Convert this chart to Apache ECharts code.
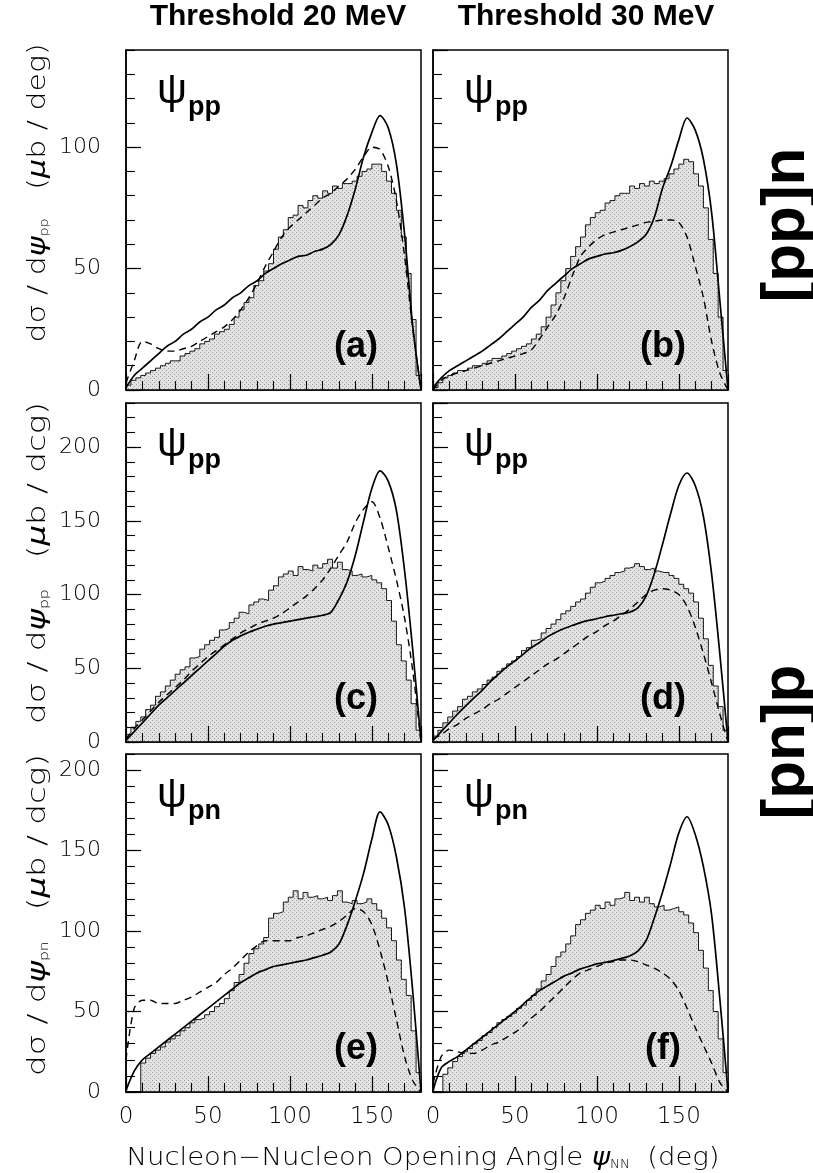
<!DOCTYPE html>
<html lang="en">
<head>
<meta charset="UTF-8">
<title>Nucleon-Nucleon opening angle</title>
<script src="https://cdn.jsdelivr.net/npm/echarts@6/dist/echarts.min.js"></script>
<style>
  html, body { margin: 0; padding: 0; background: #fff; }
  #main { width: 813px; height: 1173px; }
</style>
</head>
<body>
<div id="main"></div>
<script>
// angles of the two model curves (deg)
var anglesLine = [0,5,10,15,20,25,30,35,40,45,50,55,60,65,70,75,80,85,90,95,100,105,110,115,120,125,130,135,140,145,150,155,160,165,170,175,180];
// left edges of the 3 deg histogram bins
var binEdges = [0,3,6,9,12,15,18,21,24,27,30,33,36,39,42,45,48,51,54,57,60,63,66,69,72,75,78,81,84,87,90,93,96,99,102,105,108,111,114,117,120,123,126,129,132,135,138,141,144,147,150,153,156,159,162,165,168,171,174,177];
var xTicks = [0, 50, 100, 150];
var yMaxByRow = [140, 230, 210];

// (a) [pp]n, threshold 20 MeV
var histA  = [2,4,5,6,7,8,9,10,11,12, 12,14,15,16,17,19,20,21,23,24, 25,27,30,33,36,38,43,45,49,52, 58,63,66,71,72,76,75,78,80,79, 82,81,84,83,85,85,86,88,90,91, 93,93,90,86,81,74,63,48,29,6];
var solidA = [1,6,9,12,15,18,20,23,25,28, 30,33,35,38,40,43,45,48,50,52, 53.5,55,55.5,57,58,60,64,72,83,96, 106,113,108,93,64,26,0];
var dashA  = [3,12,20,19,17,16,16,17,18,20, 22,24,26,29,33,38,44,51,57,63, 67,70,73,76,79,81,84,87,91,96, 100,99,92,78,55,25,0];
// (b) [pp]n, threshold 30 MeV
var histB  = [1,3,5,6,7,8,8,9,10,10, 11,12,13,13,14,15,16,17,18,19, 21,23,26,30,35,40,45,50,55,59, 63,68,71,73,74,77,78,80,81,81, 84,83,85,84,86,85,86,87,89,91, 93,95,94,89,84,75,62,48,30,8];
var solidB = [1,5,8,10,12,14,16,18.5,21,24, 27,30,34,37,41,44,47,50,52,54, 55,56,56.5,57.5,59,61,64,71,83,92, 103,112,107,95,73,37,0];
var dashB  = [0,4,6,7,8,9,10,11,12,13, 14,15,16.5,21,26,31,38,47,55,59, 62,64,65,66,67,68,69,69.5,70,70, 69,63,51,38,20,7,0];
// (c) [pn]p psi_pp, 20 MeV
var histC  = [5,10,14,17,22,25,31,34,38,42, 46,49,51,57,58,63,66,69,71,76, 77,81,84,88,87,93,95,97,96,103, 106,112,114,116,113,119,117,116,120,118, 121,124,118,122,117,116,113,114,112,113, 110,108,104,96,82,66,55,42,26,8];
var solidC = [1,7,13,19,25,30,35,40,45,50, 55,60,65,69,72,74.5,76.5,78.5,80,81, 82,83,84,85,86,88,97,109,127,150, 172,184,177,157,116,62,0];
var dashC  = [2,9,15,21,27,32,37,42,48,53, 58,62,66,70,74,77,80,82,84,87, 91,95,99,104,110,118,127,136,149,158, 163,152,132,110,84,48,0];
// (d) [pn]p psi_pp, 30 MeV
var histD  = [4,8,13,17,21,24,29,31,34,36, 39,42,44,48,50,53,55,58,62,64, 69,70,74,77,80,83,87,89,92,95, 97,101,105,108,109,111,113,115,116,118, 119,121,119,117,118,116,115,115,113,111, 107,104,101,95,84,70,52,38,24,8];
var solidD = [1,7,13,19,24.5,30,35,41,46,51, 55,59.5,64,67.5,71.5,74.5,77,79,81,82.5, 83.6,85,86,87,88,91,99,114,134,155, 174,182.5,174,153,114,60,0];
var dashD  = [2,5,9,12,16,19,22,26,29,33, 37,41,45,49,53,56,60,64,68,72, 75,79,82,86,90,95,100,103,104,103, 100,92,78,60,40,19,0];
// (e) [pn]p psi_pn, 20 MeV
var histE  = [0,0,0,18,21,24,26,28,31,33, 35,38,40,43,45,46,48,50,53,55, 58,63,68,73,80,86,89,92,96,108, 111,112,118,121,125,120,124,121,122,120, 121,119,122,125,118,117,119,117,118,120, 117,113,108,102,94,82,70,60,38,12];
var solidE = [1,13,20,24,28,32,36,40,44,48, 52,56,60,64,68,71,74,76,78,79, 80,81,82,83.5,85,87,92,104,119,136, 157,174,166,146,114,62,0];
var dashE  = [20,52,57,57,55,55,55,57,59,62, 65,68,73,77,82,87,91,94,94,94, 94,96,97,99,101,103,106,110,114,112, 104,88,68,45,22,7,0];
// (f) [pn]p psi_pn, 30 MeV
var histF  = [0,0,11,15,19,22,25,27,30,32, 35,37,40,43,45,47,49,52,54,57, 60,64,69,73,78,84,87,92,97,104, 107,111,113,116,114,118,116,120,121,124, 119,121,118,121,117,115,116,113,114,115, 112,110,105,99,88,77,63,50,33,12];
var solidF = [1,15,19,22,26,30,34,38,42,46, 50,54.5,59,63,66,69,72,74,76.5,78, 79.6,80.5,81.7,83,84.5,87.5,94,108,124,142, 161,171,160,140,110,58,0];
var dashF  = [5,22,26,25,24,24,26,29,31,34, 37,41,46,50,55,60,65,70,74,76, 78,80,81,82,82,81,79,77,74,70, 63,52,40,29,18,6,0];

var panels = [
  {row: 0, col: 0, hist: histA, solid: solidA, dash: dashA, tag: '(a)', sub: 'pp'},
  {row: 0, col: 1, hist: histB, solid: solidB, dash: dashB, tag: '(b)', sub: 'pp'},
  {row: 1, col: 0, hist: histC, solid: solidC, dash: dashC, tag: '(c)', sub: 'pp'},
  {row: 1, col: 1, hist: histD, solid: solidD, dash: dashD, tag: '(d)', sub: 'pp'},
  {row: 2, col: 0, hist: histE, solid: solidE, dash: dashE, tag: '(e)', sub: 'pn'},
  {row: 2, col: 1, hist: histF, solid: solidF, dash: dashF, tag: '(f)', sub: 'pn'}
];

// layout
var colLeft = [126, 433], colW = 295;
var rowTop = [50, 403, 754], rowH = [340, 339, 338];

var LIGHT = '"DejaVu Sans", "Liberation Sans", sans-serif';
var BOLD = '"Liberation Sans", Arial, sans-serif';

// stippled screen tone for the histograms
var pat = document.createElement('canvas');
pat.width = 4; pat.height = 4;
var pc = pat.getContext('2d');
pc.fillStyle = '#e3e3e3'; pc.fillRect(0, 0, 4, 4);
pc.fillStyle = '#9a9a9a';
pc.fillRect(0, 0, 1, 1); pc.fillRect(2, 2, 1, 1);

var grids = [], xAxes = [], yAxes = [], series = [], graphics = [];

panels.forEach(function (p, i) {
  var left = colLeft[p.col], top = rowTop[p.row], h = rowH[p.row];
  var box = {left: left, top: top, width: colW, height: h, outerBoundsMode: 'none', containLabel: false};
  // main grid (frame, long ticks, labels, data)
  grids.push(Object.assign({show: true, borderColor: '#000', borderWidth: 1.5, backgroundColor: 'transparent'}, box));
  // overlay grid for the short ticks
  grids.push(Object.assign({show: false}, box));

  xAxes.push({
    type: 'value', gridIndex: 2 * i, min: 0, max: 180, interval: 50, z: 5,
    axisLine: {show: true, lineStyle: {color: '#000', width: 1.5}},
    axisTick: {show: true, inside: true, length: 16, lineStyle: {color: '#000', width: 1.2}},
    axisLabel: {
      show: p.row === 2, margin: 14, color: '#000', fontSize: 23, fontFamily: LIGHT, fontWeight: 200,
      showMaxLabel: false,
      formatter: function (v) { return xTicks.indexOf(v) >= 0 ? String(v) : ''; }
    },
    splitLine: {show: false}
  });
  xAxes.push({
    type: 'value', gridIndex: 2 * i + 1, min: 0, max: 180, interval: 10, z: 5,
    axisLine: {show: false},
    axisTick: {show: true, inside: true, length: 9, lineStyle: {color: '#000', width: 1.1}},
    axisLabel: {show: false}, splitLine: {show: false}
  });
  yAxes.push({
    type: 'value', gridIndex: 2 * i, min: 0, max: yMaxByRow[p.row], interval: 50, z: 5,
    axisLine: {show: true, lineStyle: {color: '#000', width: 1.5}},
    axisTick: {show: true, inside: true, length: 15, lineStyle: {color: '#000', width: 1.2}},
    axisLabel: {show: p.col === 0, margin: 25, color: '#000', fontSize: 22, fontFamily: LIGHT, fontWeight: 200, showMaxLabel: false},
    splitLine: {show: false}
  });
  yAxes.push({
    type: 'value', gridIndex: 2 * i + 1, min: 0, max: yMaxByRow[p.row], interval: 10, z: 5,
    axisLine: {show: false},
    axisTick: {show: true, inside: true, length: 9, lineStyle: {color: '#000', width: 1.1}},
    axisLabel: {show: false}, splitLine: {show: false}
  });

  var histData = [[0, 0]].concat(binEdges.map(function (x, k) { return [x, p.hist[k]]; })).concat([[180, 0]]);
  series.push({
    type: 'line', xAxisIndex: 2 * i, yAxisIndex: 2 * i, data: histData, step: 'end',
    symbol: 'none', z: 1, silent: true,
    lineStyle: {color: '#000', width: 0.9},
    areaStyle: {color: {image: pat, repeat: 'repeat'}, opacity: 1}
  });
  series.push({
    type: 'line', xAxisIndex: 2 * i, yAxisIndex: 2 * i, symbol: 'none', z: 2, silent: true, smooth: 0.3,
    data: anglesLine.map(function (x, k) { return [x, p.dash[k]]; }),
    lineStyle: {color: '#000', width: 1.4, type: [7, 5]}
  });
  series.push({
    type: 'line', xAxisIndex: 2 * i, yAxisIndex: 2 * i, symbol: 'none', z: 3, silent: true, smooth: 0.3,
    data: anglesLine.map(function (x, k) { return [x, p.solid[k]]; }),
    lineStyle: {color: '#000', width: 1.7}
  });

  // psi label with subscript
  graphics.push({type: 'text', x: left + 31, y: top + 41, z: 50, style: {
    text: 'ψ', fontFamily: BOLD, fontSize: 42, fill: '#000',
    align: 'left', verticalAlign: 'middle', textAlign: 'left', textVerticalAlign: 'middle'}});
  graphics.push({type: 'text', x: left + 62, y: top + 58, z: 50, style: {
    text: p.sub, fontFamily: BOLD, fontSize: 27, fontWeight: 'bold', fill: '#000',
    align: 'left', verticalAlign: 'middle', textAlign: 'left', textVerticalAlign: 'middle'}});
  // panel tag
  graphics.push({type: 'text', x: left + 230, y: top + h - 43, z: 50, style: {
    text: p.tag, fontFamily: BOLD, fontSize: 36, fontWeight: 'bold', fill: '#000',
    align: 'center', verticalAlign: 'middle', textAlign: 'center', textVerticalAlign: 'middle'}});
});

// column headers
[['Threshold 20 MeV', 278], ['Threshold 30 MeV', 586]].forEach(function (t) {
  graphics.push({type: 'text', x: t[1], y: 17, style: {
    text: t[0], fontFamily: BOLD, fontSize: 30, fontWeight: 'bold', fill: '#000',
    align: 'center', verticalAlign: 'middle', textAlign: 'center', textVerticalAlign: 'middle'}});
});

// y titles
var yTitleRich = {
  m: {fontFamily: LIGHT, fontSize: 25, fontWeight: 200, lineHeight: 30, verticalAlign: 'bottom'},
  i: {fontFamily: LIGHT, fontSize: 25, fontWeight: 200, fontStyle: 'italic', lineHeight: 30, verticalAlign: 'bottom'},
  s: {fontFamily: LIGHT, fontSize: 12, fontWeight: 200, lineHeight: 15, verticalAlign: 'bottom'}
};
[['pp', 'deg', 193, 1.2], ['pp', 'dcg', 563, 1.3], ['pn', 'dcg', 915, 1.3]].forEach(function (t) {
  graphics.push({type: 'text', x: 36, y: t[2], rotation: Math.PI / 2, scaleX: t[3], style: {
    text: '{m|dσ / d}{i|ψ}{s|' + t[0] + '}{m|   (}{i|μ}{m|b / ' + t[1] + ')}',
    rich: yTitleRich, fill: '#000',
    align: 'center', verticalAlign: 'middle', textAlign: 'center', textVerticalAlign: 'middle'}});
});

// x title
graphics.push({type: 'text', x: 423, y: 1156, scaleX: 1.1, style: {
  text: '{m|Nucleon−Nucleon Opening Angle }{i|ψ}{s|NN}{m|  (deg)}',
  rich: yTitleRich, fill: '#000',
  align: 'center', verticalAlign: 'middle', textAlign: 'center', textVerticalAlign: 'middle'}});

// reaction labels on the right
[['[pp]n', 225], ['[pn]p', 742]].forEach(function (t) {
  graphics.push({type: 'text', x: 787, y: t[1], rotation: Math.PI / 2, style: {
    text: t[0], fontFamily: BOLD, fontSize: 62, fontWeight: 'bold', fill: '#000',
    align: 'center', verticalAlign: 'middle', textAlign: 'center', textVerticalAlign: 'middle'}});
});

var chart = echarts.init(document.getElementById('main'));
chart.setOption({
  animation: false,
  backgroundColor: '#fff',
  grid: grids,
  xAxis: xAxes,
  yAxis: yAxes,
  series: series,
  graphic: graphics
});
</script>
</body>
</html>
